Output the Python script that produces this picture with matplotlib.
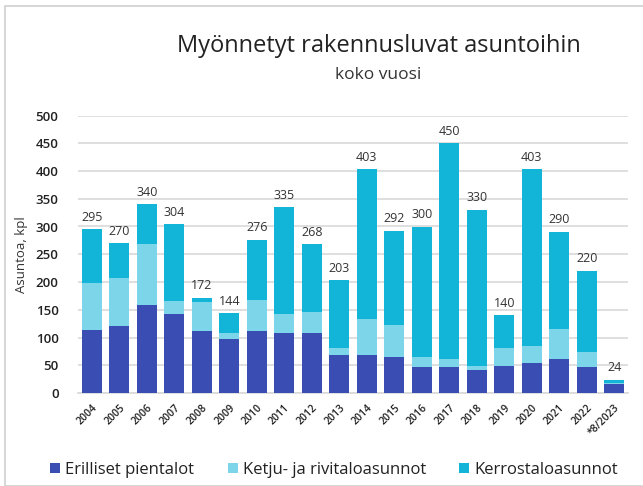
import matplotlib
matplotlib.use("Agg")
import matplotlib.pyplot as plt
from matplotlib.patches import Rectangle
import numpy as np

plt.rcParams['font.family'] = ['Open Sans', 'DejaVu Sans']

years = ["2004", "2005", "2006", "2007", "2008", "2009", "2010", "2011", "2012", "2013",
         "2014", "2015", "2016", "2017", "2018", "2019", "2020", "2021", "2022", "*8/2023"]
erilliset = [114, 120, 158, 142, 112, 98, 112, 109, 109, 68,
             68, 65, 47, 47, 41, 49, 54, 62, 47, 16]
ketju = [84, 88, 111, 23, 52, 11, 55, 34, 37, 13,
         66, 57, 18, 15, 8, 32, 31, 54, 27, 2]
totals = [295, 270, 340, 304, 172, 144, 276, 335, 268, 203,
          403, 292, 300, 450, 330, 140, 403, 290, 220, 24]
kerros = [t - a - b for t, a, b in zip(totals, erilliset, ketju)]

series_names = ["Erilliset pientalot", "Ketju- ja rivitaloasunnot", "Kerrostaloasunnot"]
colors = ["#3A4DB2", "#7DD5EA", "#12B4D8"]

W, H = 643, 486
fig = plt.figure(figsize=(W / 100, H / 100), dpi=100)
ax = fig.add_axes([78 / W, 1 - 393 / H, 550 / W, (393 - 115.5) / H])

x = np.arange(len(years))
bw = 0.72
b1 = ax.bar(x, erilliset, bw, color=colors[0], label=series_names[0], zorder=3)
b2 = ax.bar(x, ketju, bw, bottom=erilliset, color=colors[1], label=series_names[1], zorder=3)
bottom2 = [a + b for a, b in zip(erilliset, ketju)]
b3 = ax.bar(x, kerros, bw, bottom=bottom2, color=colors[2], label=series_names[2], zorder=3)

for xi, t in zip(x, totals):
    ax.annotate(str(t), (xi, t), xytext=(0, 4), textcoords="offset points",
                ha="center", va="bottom", fontsize=9, color="#333333")

ax.set_xlim(-0.5, len(years) - 0.5)
ax.set_ylim(0, 500)
ax.set_yticks(np.arange(0, 501, 50))
ax.yaxis.grid(True, color="#d9d9d9", linewidth=1.2, zorder=0)
ax.set_axisbelow(True)
for s in ["top", "right", "left"]:
    ax.spines[s].set_visible(False)
ax.spines["bottom"].set_color("#d9d9d9")
ax.spines["bottom"].set_linewidth(1.2)
ax.tick_params(axis="y", length=0, pad=14, labelsize=9.5, labelcolor="#222222")
for lbl in ax.get_yticklabels():
    lbl.set_fontweight("semibold")
ax.set_xticks(x)
ax.set_xticklabels(years, rotation=45, ha="right", rotation_mode="anchor",
                   fontsize=7.5, color="#222222", fontweight="semibold")
ax.tick_params(axis="x", length=0, pad=7)
ax.set_ylabel("Asuntoa, kpl", fontsize=9.5, color="#333333")
ax.yaxis.set_label_coords(-0.09, 0.5)

fig.text(379 / W, 1 - 46 / H, "Myönnetyt rakennusluvat asuntoihin", ha="center", va="center",
         fontsize=17, color="#222222")
fig.text(378 / W, 1 - 75 / H, "koko vuosi", ha="center", va="center",
         fontsize=12.5, color="#333333")

fig.legend(handles=[b1, b2, b3], labels=series_names, loc="center",
           bbox_to_anchor=(334 / W, 1 - 470 / H), ncol=3, frameon=False,
           fontsize=12, handlelength=0.6, handleheight=0.6, handletextpad=0.3,
           columnspacing=2.0, labelcolor="#222222")

fig.patches.append(Rectangle((5 / W, 0), 1, 1 - 6 / H, transform=fig.transFigure,
                             fill=False, edgecolor="#d0d0d0", linewidth=1.2))

fig.savefig("out.png", dpi=100)
